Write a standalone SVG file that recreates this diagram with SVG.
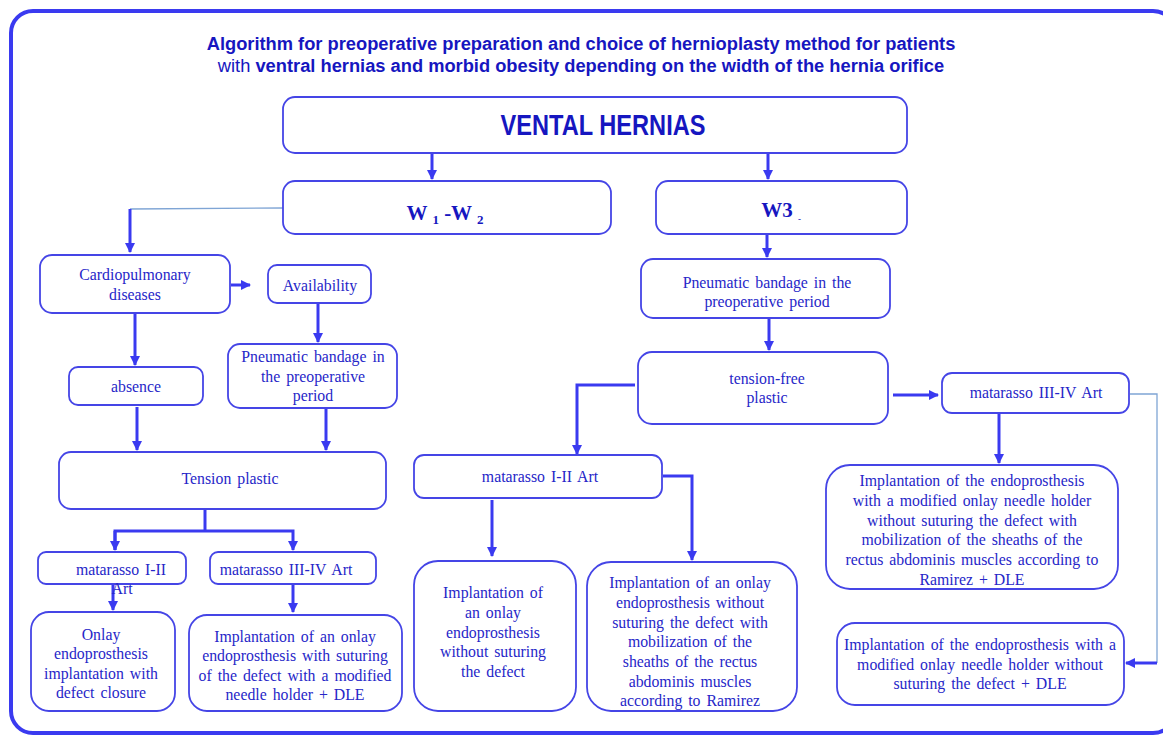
<svg xmlns="http://www.w3.org/2000/svg" width="1163" height="737" viewBox="0 0 1163 737">
<defs>
<marker id="ah" viewBox="0 0 10 10" refX="9" refY="5" markerWidth="3.4" markerHeight="3.4" orient="auto" markerUnits="strokeWidth">
<path d="M0,0 L10,5 L0,10 z" fill="#3a3af0"/>
</marker>
<style>
.frame{fill:#fff;stroke:#3a3af0;stroke-width:4}
.box{fill:#fff;stroke:#4545e6;stroke-width:1.8}
.t{font-family:"Liberation Serif",serif;font-size:15.8px;fill:#2626c8;text-anchor:middle;word-spacing:2px}
.ttl{font-family:"Liberation Sans",Arial,sans-serif;font-size:18.3px;fill:#1616c0;text-anchor:middle;font-weight:bold}
.big{font-family:"Liberation Sans",Arial,sans-serif;font-size:29px;fill:#1616c0;text-anchor:middle;font-weight:bold}
.w{font-family:"Liberation Serif",serif;font-size:21px;fill:#1616c0;text-anchor:middle;font-weight:bold}
.c{fill:none;stroke:#3a3af0;stroke-width:3}
.thin{fill:none;stroke:#7fa5d5;stroke-width:1.3}
</style>
</defs>
<rect class="frame" x="11" y="11" width="1164" height="722" rx="22"/>
<g id="title">
<text class="ttl" x="581" y="50">Algorithm for preoperative preparation and choice of hernioplasty method for patients</text>
<text class="ttl" x="581" y="72"><tspan font-weight="normal">with </tspan>ventral hernias and morbid obesity depending on the width of the hernia orifice</text>
</g>
<g id="connectors">
<path class="c" d="M432,153 V179" marker-end="url(#ah)"/>
<path class="c" d="M768,153 V179" marker-end="url(#ah)"/>
<path class="thin" d="M283,208 L130,209"/>
<path class="c" d="M130,209 V252" marker-end="url(#ah)"/>
<path class="c" d="M231,285 H250" marker-end="url(#ah)"/>
<path class="c" d="M318,303 V342" marker-end="url(#ah)"/>
<path class="c" d="M135,314 V365" marker-end="url(#ah)"/>
<path class="c" d="M137,407 V450" marker-end="url(#ah)"/>
<path class="c" d="M326,409 V450" marker-end="url(#ah)"/>
<path class="c" d="M205,510 V530"/>
<path class="c" d="M115,550 V531 H293 V550" marker-end="url(#ah)"/>
<path class="c" d="M115,531 V550" marker-end="url(#ah)"/>
<path class="c" d="M113,585 V610" marker-end="url(#ah)"/>
<path class="c" d="M293,585 V612" marker-end="url(#ah)"/>
<path class="c" d="M767,235 V257" marker-end="url(#ah)"/>
<path class="c" d="M769,318 V350" marker-end="url(#ah)"/>
<path class="c" d="M893,395 H938" marker-end="url(#ah)"/>
<path class="c" d="M635,385 H577 V454" marker-end="url(#ah)"/>
<path class="c" d="M492,500 V556" marker-end="url(#ah)"/>
<path class="c" d="M663,476 H692 V560" marker-end="url(#ah)"/>
<path class="c" d="M999,414 V463" marker-end="url(#ah)"/>
<path class="thin" d="M1130,394 H1157 V663"/>
<path class="c" d="M1157,663 H1126" marker-end="url(#ah)"/>
</g>
<g id="n-ventral"><rect class="box" x="283" y="97" width="624" height="56" rx="12"/><text class="big" x="603" y="135" textLength="205" lengthAdjust="spacingAndGlyphs">VENTAL HERNIAS</text></g>
<g id="n-w12"><rect class="box" x="283" y="181" width="328" height="53" rx="12"/><text class="w" x="445" y="220">W <tspan font-size="13" dy="4">1</tspan><tspan dy="-4"> -W </tspan><tspan font-size="13" dy="4">2</tspan></text></g>
<g id="n-w3"><rect class="box" x="656" y="181" width="251" height="53" rx="12"/><text class="w" x="781" y="217">W3 <tspan font-size="9" dy="5">-</tspan></text></g>
<g id="n-cardio"><rect class="box" x="40" y="255" width="190" height="58" rx="12"/><text class="t" x="135" y="280">Cardiopulmonary</text><text class="t" x="135" y="300">diseases</text></g>
<g id="n-avail"><rect class="box" x="268" y="265" width="103" height="38" rx="9"/><text class="t" x="320" y="291">Availability</text></g>
<g id="n-pneu-l"><rect class="box" x="228" y="344" width="169" height="64" rx="12"/><text class="t" x="313" y="362">Pneumatic bandage in</text><text class="t" x="313" y="382">the preoperative</text><text class="t" x="313" y="401">period</text></g>
<g id="n-absence"><rect class="box" x="69" y="367" width="134" height="38" rx="9"/><text class="t" x="136" y="392">absence</text></g>
<g id="n-tension"><rect class="box" x="59" y="452" width="327" height="57" rx="12"/><text class="t" x="230" y="484">Tension plastic</text></g>
<g id="n-mat12-l"><rect class="box" x="38" y="552" width="148" height="32" rx="8"/><text class="t" x="121" y="575">matarasso I-II</text><text class="t" x="122" y="594">Art</text></g>
<g id="n-mat34-l"><rect class="box" x="210" y="552" width="166" height="32" rx="8"/><text class="t" x="286" y="575">matarasso III-IV Art</text></g>
<g id="n-onlay"><rect class="box" x="31" y="612" width="144" height="99" rx="18"/><text class="t" x="101" y="640">Onlay</text><text class="t" x="101" y="659">endoprosthesis</text><text class="t" x="101" y="679">implantation with</text><text class="t" x="101" y="698">defect closure</text></g>
<g id="n-impl-suture"><rect class="box" x="189" y="615" width="213" height="96" rx="18"/><text class="t" x="295" y="642">Implantation of an onlay</text><text class="t" x="295" y="661">endoprosthesis with suturing</text><text class="t" x="295" y="681">of the defect with a modified</text><text class="t" x="295" y="700">needle holder + DLE</text></g>
<g id="n-pneu-r"><rect class="box" x="641" y="259" width="249" height="59" rx="12"/><text class="t" x="767" y="288">Pneumatic bandage in the</text><text class="t" x="767" y="307">preoperative period</text></g>
<g id="n-tfree"><rect class="box" x="638" y="352" width="250" height="72" rx="14"/><text class="t" x="767" y="384">tension-free</text><text class="t" x="767" y="403">plastic</text></g>
<g id="n-mat34-r"><rect class="box" x="942" y="373" width="187" height="40" rx="10"/><text class="t" x="1036" y="398">matarasso III-IV Art</text></g>
<g id="n-mat12-m"><rect class="box" x="414" y="455" width="248" height="43" rx="10"/><text class="t" x="540" y="482">matarasso I-II Art</text></g>
<g id="n-impl-nosut"><rect class="box" x="414" y="561" width="162" height="150" rx="24"/><text class="t" x="493" y="598">Implantation of</text><text class="t" x="493" y="618">an onlay</text><text class="t" x="493" y="638">endoprosthesis</text><text class="t" x="493" y="657">without suturing</text><text class="t" x="493" y="677">the defect</text></g>
<g id="n-impl-ramirez"><rect class="box" x="587" y="562" width="210" height="149" rx="24"/><text class="t" x="690" y="588">Implantation of an onlay</text><text class="t" x="690" y="608">endoprosthesis without</text><text class="t" x="690" y="628">suturing the defect with</text><text class="t" x="690" y="647">mobilization of the</text><text class="t" x="690" y="667">sheaths of the rectus</text><text class="t" x="690" y="687">abdominis muscles</text><text class="t" x="690" y="706">according to Ramirez</text></g>
<g id="n-impl-mod-ramirez"><rect class="box" x="826" y="465" width="292" height="124" rx="24"/><text class="t" x="972" y="486">Implantation of the endoprosthesis</text><text class="t" x="972" y="506">with a modified onlay needle holder</text><text class="t" x="972" y="526">without suturing the defect with</text><text class="t" x="972" y="545">mobilization of the sheaths of the</text><text class="t" x="972" y="565">rectus abdominis muscles according to</text><text class="t" x="972" y="585">Ramirez + DLE</text></g>
<g id="n-impl-mod"><rect class="box" x="837" y="623" width="287" height="82" rx="18"/><text class="t" x="980" y="650">Implantation of the endoprosthesis with a</text><text class="t" x="980" y="670">modified onlay needle holder without</text><text class="t" x="980" y="689">suturing the defect + DLE</text></g>
</svg>
